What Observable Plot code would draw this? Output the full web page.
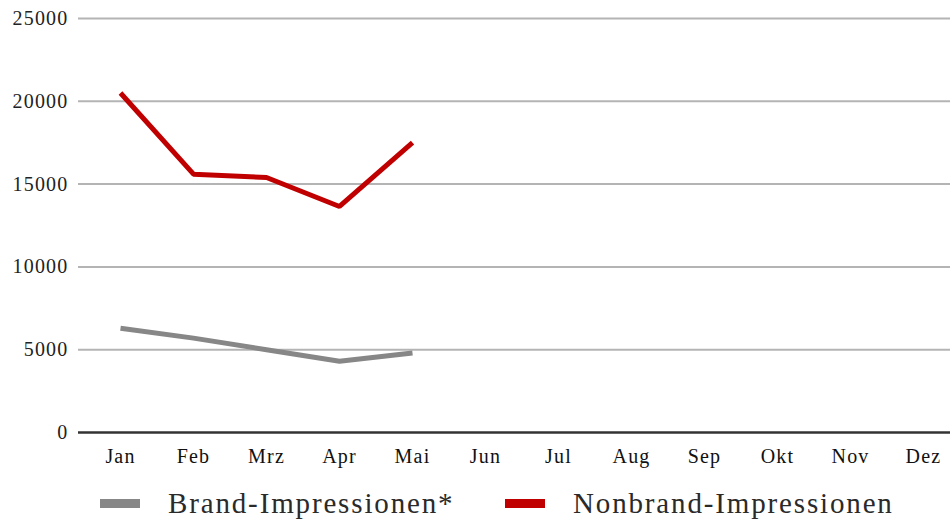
<!DOCTYPE html>
<html>
<head>
<meta charset="utf-8">
<script src="https://cdn.jsdelivr.net/npm/d3@7"></script>
<script src="https://cdn.jsdelivr.net/npm/@observablehq/plot@0.6"></script>
<style>
  body { margin: 0; background: #fff; font-family: "Liberation Serif", "DejaVu Serif", serif; }
  #wrap { position: relative; width: 950px; height: 531px; overflow: hidden; }
  #legend { position: absolute; left: 0; top: 475px; width: 950px; height: 56px; color: #2a2a2a; }
  .item { position: absolute; top: 0; height: 56px; display: flex; align-items: center; font-size: 29px; letter-spacing: 1.85px; }
  .sw { width: 40px; height: 9px; margin-right: 28px; }
  #chart svg text { letter-spacing: 1.2px; }
</style>
</head>
<body>
<div id="wrap">
  <div id="chart"></div>
  <div id="legend"></div>
</div>
<script>
const months = ["Jan","Feb","Mrz","Apr","Mai","Jun","Jul","Aug","Sep","Okt","Nov","Dez"];
const seriesNames = ["Brand-Impressionen*", "Nonbrand-Impressionen"];
const brandMonths = ["Jan","Feb","Mrz","Apr","Mai"];
const brandValues = [6300, 5700, 5000, 4300, 4800];
const nonbrandMonths = ["Jan","Feb","Mrz","Apr","Mai"];
const nonbrandValues = [20500, 15600, 15400, 13650, 17500];
const yTicks = [0, 5000, 10000, 15000, 20000, 25000];
const colors = ["#878787", "#c00000"];

const data = [
  ...brandMonths.map((m, i) => ({month: m, value: brandValues[i], series: seriesNames[0]})),
  ...nonbrandMonths.map((m, i) => ({month: m, value: nonbrandValues[i], series: seriesNames[1]}))
];

const chart = Plot.plot({
  width: 950,
  height: 475,
  marginLeft: 78,
  marginRight: 0,
  marginTop: 18,
  marginBottom: 43,
  style: {fontFamily: "'Liberation Serif', serif", fontSize: "20px", color: "#222", background: "#fff"},
  x: {type: "point", domain: months, range: [117, 926], padding: 0, label: null},
  y: {domain: [0, 25000], label: null},
  color: {domain: seriesNames, range: colors},
  marks: [
    Plot.ruleY(yTicks.filter(d => d > 0), {stroke: "#b4b4b4", strokeWidth: 2}),
    Plot.axisY(yTicks, {tickSize: 0, tickPadding: 10, label: null, tickFormat: d => String(d), fill: "#222", fontSize: 20}),
    Plot.axisX(months, {tickSize: 0, tickPadding: 16, label: null, fill: "#111", fontSize: 20}),
    Plot.line(data, {x: "month", y: "value", z: "series", stroke: "series", strokeWidth: 5, strokeLinejoin: "miter", strokeLinecap: "butt"}),
    Plot.ruleY([0], {stroke: "#333", strokeWidth: 2.5})
  ]
});
document.getElementById("chart").appendChild(chart);

const legend = document.getElementById("legend");
const lefts = [100, 505];
seriesNames.forEach((name, i) => {
  const it = document.createElement("div");
  it.className = "item";
  it.style.left = lefts[i] + "px";
  const sw = document.createElement("span");
  sw.className = "sw";
  sw.style.background = colors[i];
  const t = document.createElement("span");
  t.textContent = name;
  it.appendChild(sw);
  it.appendChild(t);
  legend.appendChild(it);
});
</script>
</body>
</html>
